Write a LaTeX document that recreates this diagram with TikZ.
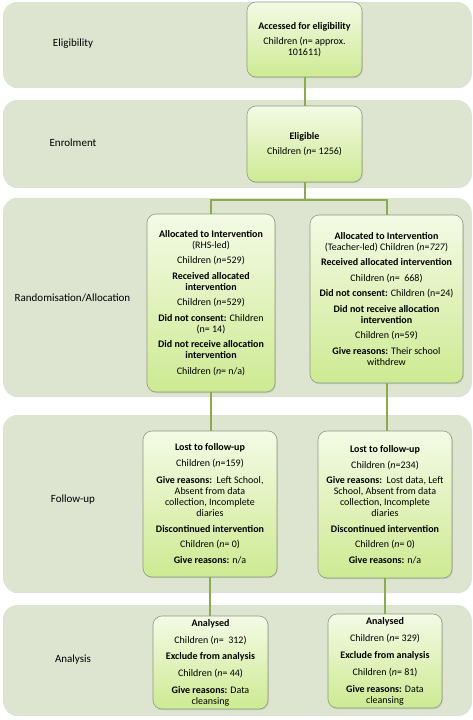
\documentclass[tikz,border=0pt]{standalone}
\usepackage{fontspec}
\setmainfont{Carlito}
\usetikzlibrary{shadows}
\definecolor{bandc}{HTML}{DDE4D0}
\definecolor{linec}{HTML}{8BAA52}
\definecolor{boxtop}{HTML}{F4FAE6}
\definecolor{boxbot}{HTML}{CDEA92}
\definecolor{boxedge}{HTML}{8E9A84}
\begin{document}
\begin{tikzpicture}[x=1pt,y=-1pt,
  band/.style={fill=bandc, rounded corners=14pt,
    drop shadow={shadow xshift=0.8pt, shadow yshift=-1.2pt, opacity=0.25}},
  lab/.style={font=\fontsize{11}{13}\selectfont, anchor=center},
  box/.style={draw=boxedge, line width=0.6pt, rounded corners=9pt,
    top color=boxtop, bottom color=boxbot, align=center,
    font=\fontsize{10}{11}\selectfont, inner sep=2pt,
    drop shadow={shadow xshift=0.8pt, shadow yshift=-1.2pt, opacity=0.25}},
  conn/.style={draw=linec, line width=2pt}]
\useasboundingbox (0,0) rectangle (473,720);
% bands
\path[band] (3,2) rectangle (471,87);
\path[band] (3,100) rectangle (471,187);
\path[band] (3,198) rectangle (471,396);
\path[band] (3,415) rectangle (471,592);
\path[band] (3,605) rectangle (471,715);
% band labels
\node[lab] (l1) at (73,44) {Eligibility};
\node[lab] (l2) at (73,143) {Enrolment};
\node[lab] (l3) at (72.5,298) {Randomisation/Allocation};
\node[lab] (l4) at (73,500) {Follow-up};
\node[lab] (l5) at (73,660) {Analysis};
% connectors (drawn first, boxes on top)
\coordinate (sp) at (304.5,200);
% boxes
\node[box, minimum width=115pt, minimum height=75pt] (acc) at (304.5,39.5)
 {\textbf{Accessed for eligibility}\\[4.5pt]Children (\textit{n}= approx.\\101611)};
\node[box, minimum width=115pt, minimum height=76pt] (elig) at (304.5,144)
 {\textbf{Eligible}\\[4.5pt]Children (\textit{n}= 1256)};
\node[box, minimum width=128pt, minimum height=178pt] (rl) at (211,303)
 {\textbf{Allocated to Intervention}\\(RHS-led)\\[4pt]Children (\textit{n}=529)\\[4.5pt]\textbf{Received allocated}\\\textbf{intervention}\\[4.5pt]Children (\textit{n}=529)\\[4.5pt]\textbf{Did not consent:} Children\\(n= 14)\\[4.5pt]\textbf{Did not receive allocation}\\\textbf{intervention}\\[4.5pt]Children (\textit{n}= n/a)};
\node[box, minimum width=153pt, minimum height=168pt] (rr) at (386.5,299)
 {\textbf{Allocated to Intervention}\\(Teacher-led) Children (\textit{n}=\textit{727})\\[4pt]\textbf{Received allocated intervention}\\[4.5pt]Children (\textit{n}=\ \ 668)\\[4.5pt]\textbf{Did not consent:} Children (n=24)\\[4.5pt]\textbf{Did not receive allocation}\\\textbf{intervention}\\[4.5pt]Children (\textit{n}=59)\\[4.5pt]\textbf{Give reasons:} Their school\\withdrew};
\node[box, minimum width=134pt, minimum height=146pt] (fl) at (210,504)
 {\textbf{Lost to follow-up}\\[4.5pt]Children (\textit{n}=159)\\[6pt]\textbf{Give reasons:}\ \ Left School,\\Absent from data\\collection, Incomplete\\diaries\\[5pt]\textbf{Discontinued intervention}\\[4.5pt]Children (\textit{n}= 0)\\[5pt]\textbf{Give reasons:} n/a};
\node[box, minimum width=134pt, minimum height=147pt] (fr) at (385,504.5)
 {\textbf{Lost to follow-up}\\[4.5pt]Children (\textit{n}=234)\\[4pt]\textbf{Give reasons:}\ \ Lost data, Left\\School, Absent from data\\collection, Incomplete\\diaries\\[5pt]\textbf{Discontinued intervention}\\[4.5pt]Children (\textit{n}= 0)\\[4.5pt]\textbf{Give reasons:} n/a};
\node[box, minimum width=115pt, minimum height=93pt] (al) at (210.5,662.5)
 {\textbf{Analysed}\\[6pt]Children (\textit{n}=\ \ 312)\\[5pt]\textbf{Exclude from analysis}\\[6pt]Children (\textit{n}= 44)\\[6pt]\textbf{Give reasons:} Data\\cleansing};
\node[box, minimum width=114pt, minimum height=94pt] (ar) at (385,661)
 {\textbf{Analysed}\\[6pt]Children (\textit{n}= 329)\\[6pt]\textbf{Exclude from analysis}\\[6pt]Children (\textit{n}= 81)\\[6pt]\textbf{Give reasons:} Data\\cleansing};
% connectors
\draw[conn] (acc.south) -- (elig.north);
\draw[conn] (elig.south) -- (sp);
\draw[conn] (sp) -| (rl.north);
\draw[conn] (sp) -| (rr.north);
\draw[conn] (rl.south) -- (rl.south |- fl.north);
\draw[conn] (rr.south) -- (rr.south |- fr.north);
\draw[conn] (fl.south) -- (fl.south |- al.north);
\draw[conn] (fr.south) -- (fr.south |- ar.north);
\end{tikzpicture}
\end{document}
